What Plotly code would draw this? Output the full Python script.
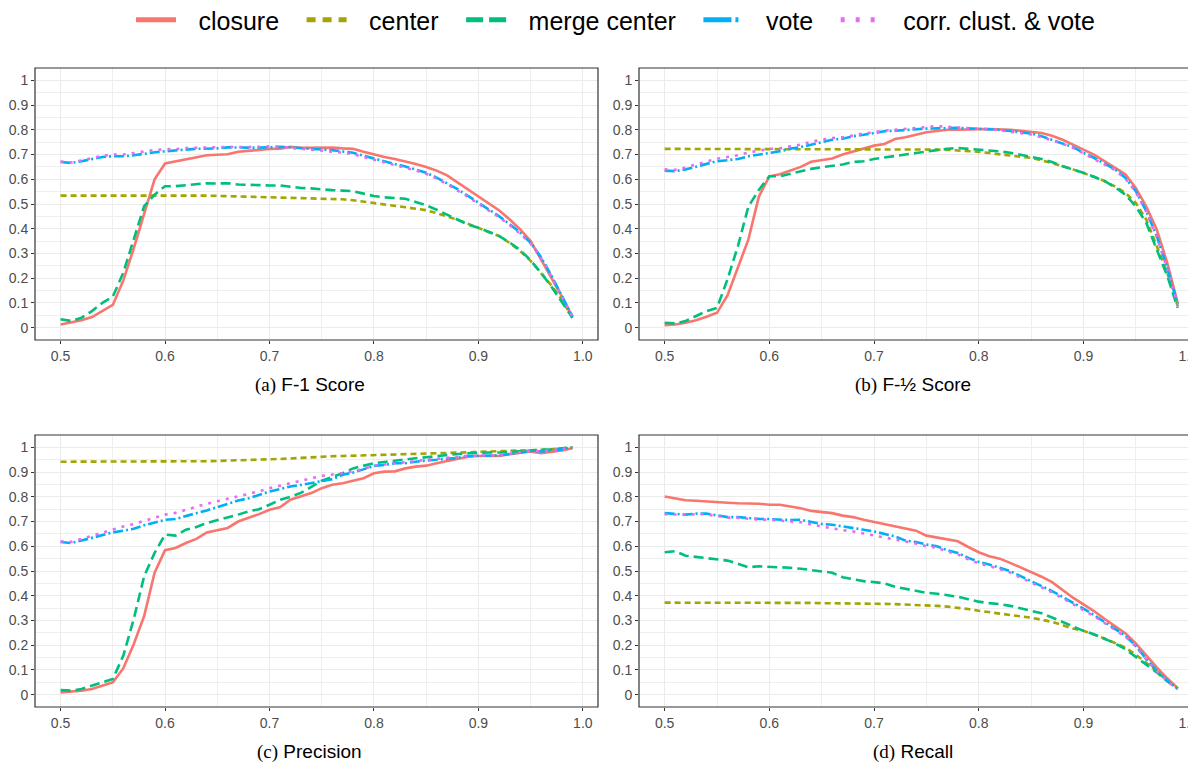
import plotly.graph_objects as go

thresholds = [0.50, 0.51, 0.52, 0.53, 0.54, 0.55, 0.56, 0.57, 0.58, 0.59,
              0.60, 0.61, 0.62, 0.63, 0.64, 0.65, 0.66, 0.67, 0.68, 0.69,
              0.70, 0.71, 0.72, 0.73, 0.74, 0.75, 0.76, 0.77, 0.78, 0.79,
              0.80, 0.81, 0.82, 0.83, 0.84, 0.85, 0.86, 0.87, 0.88, 0.89,
              0.90, 0.91, 0.92, 0.93, 0.94, 0.95, 0.96, 0.97, 0.98, 0.99]

series_names = ["closure", "center", "merge center", "vote", "corr. clust. & vote"]

# (a) F-1 score
closure_f1 = [0.013, 0.020, 0.030, 0.043, 0.067, 0.092, 0.190, 0.320, 0.460, 0.600,
              0.664, 0.673, 0.682, 0.689, 0.697, 0.699, 0.701, 0.711, 0.716, 0.720,
              0.723, 0.724, 0.731, 0.727, 0.728, 0.728, 0.728, 0.725, 0.723, 0.711,
              0.700, 0.690, 0.682, 0.673, 0.662, 0.650, 0.635, 0.616, 0.588, 0.559,
              0.532, 0.505, 0.474, 0.437, 0.397, 0.350, 0.276, 0.202, 0.125, 0.045]
center_f1 = [0.534, 0.534, 0.534, 0.534, 0.535, 0.535, 0.535, 0.536, 0.536, 0.537,
             0.537, 0.536, 0.536, 0.535, 0.534, 0.533, 0.532, 0.531, 0.530, 0.529,
             0.529, 0.528, 0.527, 0.526, 0.525, 0.524, 0.522, 0.519, 0.515, 0.510,
             0.505, 0.499, 0.493, 0.487, 0.481, 0.475, 0.463, 0.450, 0.436, 0.420,
             0.404, 0.388, 0.370, 0.342, 0.310, 0.270, 0.222, 0.170, 0.112, 0.040]
merge_f1 = [0.034, 0.027, 0.040, 0.067, 0.100, 0.125, 0.222, 0.357, 0.491, 0.538,
            0.572, 0.572, 0.577, 0.581, 0.584, 0.583, 0.584, 0.579, 0.577, 0.575,
            0.575, 0.575, 0.569, 0.565, 0.563, 0.558, 0.556, 0.554, 0.552, 0.542,
            0.532, 0.527, 0.524, 0.521, 0.508, 0.495, 0.477, 0.458, 0.437, 0.417,
            0.404, 0.388, 0.370, 0.344, 0.314, 0.272, 0.222, 0.165, 0.100, 0.040]
vote_f1 = [0.670, 0.666, 0.673, 0.682, 0.690, 0.693, 0.693, 0.697, 0.704, 0.709,
           0.713, 0.715, 0.720, 0.723, 0.723, 0.725, 0.729, 0.727, 0.728, 0.728,
           0.731, 0.731, 0.729, 0.725, 0.723, 0.720, 0.718, 0.713, 0.707, 0.695,
           0.683, 0.672, 0.662, 0.652, 0.640, 0.626, 0.607, 0.585, 0.560, 0.533,
           0.505, 0.478, 0.450, 0.418, 0.384, 0.343, 0.285, 0.210, 0.130, 0.045]
corr_f1 = [0.672, 0.668, 0.676, 0.686, 0.695, 0.700, 0.700, 0.706, 0.713, 0.718,
           0.722, 0.722, 0.726, 0.728, 0.729, 0.730, 0.731, 0.729, 0.730, 0.731,
           0.733, 0.731, 0.727, 0.722, 0.719, 0.716, 0.713, 0.708, 0.701, 0.690,
           0.678, 0.668, 0.658, 0.648, 0.636, 0.622, 0.603, 0.580, 0.556, 0.529,
           0.501, 0.474, 0.446, 0.414, 0.380, 0.340, 0.282, 0.207, 0.128, 0.044]

# (b) F-1/2 score
closure_fh = [0.010, 0.013, 0.020, 0.030, 0.044, 0.060, 0.130, 0.242, 0.357, 0.530,
              0.612, 0.620, 0.635, 0.650, 0.671, 0.676, 0.684, 0.700, 0.712, 0.723,
              0.736, 0.743, 0.763, 0.770, 0.780, 0.790, 0.795, 0.800, 0.800, 0.803,
              0.803, 0.803, 0.803, 0.800, 0.796, 0.790, 0.787, 0.776, 0.760, 0.740,
              0.720, 0.700, 0.673, 0.646, 0.620, 0.565, 0.490, 0.397, 0.262, 0.100]
center_fh = [0.723, 0.723, 0.723, 0.723, 0.723, 0.723, 0.723, 0.723, 0.723, 0.723,
             0.723, 0.723, 0.723, 0.723, 0.723, 0.723, 0.723, 0.723, 0.723, 0.723,
             0.723, 0.722, 0.722, 0.722, 0.722, 0.721, 0.720, 0.719, 0.717, 0.714,
             0.711, 0.706, 0.700, 0.696, 0.691, 0.687, 0.677, 0.666, 0.653, 0.640,
             0.626, 0.610, 0.593, 0.571, 0.545, 0.505, 0.437, 0.330, 0.222, 0.087]
merge_fh = [0.020, 0.017, 0.027, 0.047, 0.067, 0.080, 0.195, 0.330, 0.490, 0.557,
            0.612, 0.612, 0.622, 0.633, 0.642, 0.649, 0.653, 0.660, 0.670, 0.673,
            0.682, 0.687, 0.693, 0.700, 0.706, 0.713, 0.718, 0.723, 0.727, 0.723,
            0.720, 0.717, 0.713, 0.707, 0.700, 0.691, 0.682, 0.670, 0.653, 0.640,
            0.626, 0.610, 0.593, 0.568, 0.538, 0.490, 0.424, 0.316, 0.210, 0.080]
vote_fh = [0.635, 0.633, 0.640, 0.650, 0.660, 0.673, 0.677, 0.682, 0.693, 0.700,
           0.709, 0.713, 0.724, 0.730, 0.740, 0.750, 0.760, 0.764, 0.774, 0.780,
           0.787, 0.794, 0.796, 0.800, 0.802, 0.805, 0.806, 0.808, 0.808, 0.806,
           0.805, 0.803, 0.800, 0.795, 0.790, 0.785, 0.774, 0.760, 0.747, 0.730,
           0.707, 0.687, 0.663, 0.640, 0.606, 0.552, 0.471, 0.370, 0.242, 0.094]
corr_fh = [0.640, 0.638, 0.648, 0.660, 0.670, 0.683, 0.690, 0.697, 0.708, 0.717,
           0.723, 0.725, 0.732, 0.740, 0.752, 0.760, 0.767, 0.770, 0.778, 0.785,
           0.790, 0.797, 0.800, 0.803, 0.806, 0.810, 0.815, 0.812, 0.810, 0.807,
           0.805, 0.802, 0.798, 0.793, 0.787, 0.781, 0.770, 0.757, 0.744, 0.727,
           0.704, 0.684, 0.660, 0.637, 0.603, 0.549, 0.468, 0.367, 0.240, 0.093]

# (c) Precision
closure_p = [0.009, 0.012, 0.016, 0.023, 0.036, 0.050, 0.106, 0.204, 0.318, 0.493,
             0.584, 0.593, 0.613, 0.630, 0.656, 0.664, 0.674, 0.700, 0.714, 0.730,
             0.748, 0.758, 0.788, 0.800, 0.815, 0.835, 0.849, 0.855, 0.866, 0.875,
             0.895, 0.902, 0.903, 0.915, 0.922, 0.926, 0.936, 0.945, 0.952, 0.962,
             0.965, 0.965, 0.965, 0.972, 0.976, 0.983, 0.976, 0.980, 0.987, 0.996]
center_p = [0.942, 0.942, 0.942, 0.942, 0.942, 0.942, 0.942, 0.942, 0.941, 0.941,
            0.941, 0.941, 0.942, 0.943, 0.944, 0.945, 0.947, 0.948, 0.950, 0.951,
            0.952, 0.953, 0.955, 0.958, 0.962, 0.963, 0.964, 0.965, 0.966, 0.967,
            0.968, 0.969, 0.970, 0.971, 0.972, 0.973, 0.975, 0.977, 0.978, 0.980,
            0.982, 0.983, 0.984, 0.986, 0.987, 0.989, 0.990, 0.992, 0.995, 1.000]
merge_p = [0.019, 0.016, 0.023, 0.036, 0.050, 0.063, 0.157, 0.305, 0.479, 0.573,
           0.647, 0.643, 0.667, 0.678, 0.694, 0.705, 0.714, 0.728, 0.741, 0.750,
           0.768, 0.788, 0.800, 0.816, 0.840, 0.865, 0.880, 0.895, 0.915, 0.926,
           0.936, 0.941, 0.947, 0.952, 0.956, 0.960, 0.965, 0.969, 0.973, 0.976,
           0.979, 0.979, 0.979, 0.982, 0.985, 0.989, 0.990, 0.992, 0.995, 1.000]
vote_p = [0.617, 0.613, 0.623, 0.634, 0.643, 0.656, 0.663, 0.671, 0.685, 0.697,
          0.707, 0.710, 0.723, 0.734, 0.745, 0.758, 0.772, 0.785, 0.794, 0.808,
          0.821, 0.831, 0.842, 0.848, 0.855, 0.862, 0.871, 0.889, 0.898, 0.911,
          0.925, 0.929, 0.936, 0.936, 0.943, 0.947, 0.950, 0.953, 0.958, 0.965,
          0.965, 0.965, 0.968, 0.973, 0.979, 0.985, 0.983, 0.987, 0.992, 1.000]
corr_p = [0.620, 0.618, 0.630, 0.643, 0.655, 0.670, 0.680, 0.690, 0.703, 0.716,
          0.728, 0.735, 0.748, 0.760, 0.772, 0.782, 0.792, 0.800, 0.810, 0.822,
          0.835, 0.845, 0.855, 0.863, 0.873, 0.885, 0.890, 0.895, 0.902, 0.913,
          0.926, 0.931, 0.937, 0.940, 0.945, 0.949, 0.952, 0.955, 0.960, 0.966,
          0.966, 0.966, 0.969, 0.974, 0.980, 0.986, 0.984, 0.988, 0.993, 1.000]

# (d) Recall
closure_r = [0.801, 0.795, 0.786, 0.784, 0.781, 0.777, 0.776, 0.774, 0.774, 0.772,
             0.768, 0.768, 0.761, 0.754, 0.743, 0.737, 0.734, 0.724, 0.718, 0.707,
             0.698, 0.690, 0.681, 0.670, 0.663, 0.643, 0.636, 0.630, 0.620, 0.597,
             0.576, 0.560, 0.550, 0.533, 0.515, 0.497, 0.477, 0.455, 0.423, 0.392,
             0.365, 0.338, 0.307, 0.278, 0.248, 0.207, 0.157, 0.110, 0.066, 0.026]
center_r = [0.372, 0.372, 0.372, 0.372, 0.373, 0.373, 0.373, 0.373, 0.374, 0.374,
            0.374, 0.374, 0.373, 0.372, 0.371, 0.370, 0.370, 0.369, 0.369, 0.368,
            0.368, 0.367, 0.366, 0.365, 0.364, 0.362, 0.359, 0.356, 0.352, 0.346,
            0.339, 0.334, 0.329, 0.323, 0.317, 0.311, 0.303, 0.294, 0.281, 0.267,
            0.258, 0.243, 0.227, 0.209, 0.190, 0.162, 0.130, 0.095, 0.056, 0.026]
merge_r = [0.576, 0.580, 0.562, 0.557, 0.553, 0.549, 0.542, 0.529, 0.515, 0.519,
           0.517, 0.517, 0.513, 0.509, 0.503, 0.497, 0.493, 0.475, 0.466, 0.459,
           0.455, 0.450, 0.436, 0.428, 0.423, 0.412, 0.408, 0.403, 0.396, 0.386,
           0.376, 0.370, 0.366, 0.359, 0.350, 0.339, 0.329, 0.312, 0.294, 0.276,
           0.258, 0.244, 0.227, 0.208, 0.184, 0.153, 0.123, 0.090, 0.054, 0.026]
vote_r = [0.734, 0.732, 0.728, 0.732, 0.732, 0.725, 0.718, 0.718, 0.714, 0.711,
          0.710, 0.707, 0.706, 0.707, 0.700, 0.690, 0.687, 0.681, 0.674, 0.667,
          0.660, 0.651, 0.640, 0.623, 0.617, 0.607, 0.600, 0.584, 0.573, 0.553,
          0.537, 0.526, 0.513, 0.500, 0.479, 0.459, 0.439, 0.419, 0.395, 0.372,
          0.348, 0.322, 0.294, 0.267, 0.238, 0.197, 0.144, 0.097, 0.056, 0.023]
corr_r = [0.730, 0.729, 0.727, 0.730, 0.729, 0.722, 0.716, 0.715, 0.710, 0.708,
          0.707, 0.703, 0.700, 0.697, 0.688, 0.680, 0.675, 0.665, 0.660, 0.652,
          0.645, 0.637, 0.628, 0.618, 0.611, 0.600, 0.594, 0.579, 0.567, 0.547,
          0.531, 0.520, 0.507, 0.494, 0.473, 0.453, 0.434, 0.414, 0.390, 0.367,
          0.343, 0.318, 0.290, 0.263, 0.235, 0.195, 0.142, 0.096, 0.055, 0.023]

captions = ["(a)", "(b)", "(c)", "(d)"]
caption_texts = ["F-1 Score", "F-½ Score", "Precision", "Recall"]

panels = [
    [closure_f1, center_f1, merge_f1, vote_f1, corr_f1],
    [closure_fh, center_fh, merge_fh, vote_fh, corr_fh],
    [closure_p, center_p, merge_p, vote_p, corr_p],
    [closure_r, center_r, merge_r, vote_r, corr_r],
]

colors = ["#F8766D", "#A3A500", "#00BF7D", "#00B0F6", "#E76BF3"]
dashes = ["solid", "6px,4px", "10px,5px", "10px,3px,2px,3px", "3px,6px"]
legend_dashes = ["solid", "9px,7px", "17px,6px", "28px,4px,3px,5px", "4px,11px"]

# the page body has an 8px margin; figure is sized to fill the visible window
OFF = 8
W, H = 1196 - OFF, 767 - OFF
# panel pixel boxes in window coords: (left, right, top, bottom)
boxes = [(35, 598, 68, 340), (639, 1196, 68, 340),
         (35, 598, 435, 707), (639, 1196, 435, 707)]
xranges = [[0.4755, 1.0145], [0.4755, 1.0075], [0.4755, 1.0145], [0.4755, 1.0075]]
cap_pos = [(310, 385), (913, 385), (309, 752), (913, 752)]

fig = go.Figure()
SP = "\u2002\u2009"
for p, ser in enumerate(panels):
    ax = "" if p == 0 else str(p + 1)
    for i, ys in enumerate(ser):
        fig.add_trace(go.Scatter(
            x=thresholds, y=ys, mode="lines", name=series_names[i],
            legendgroup=series_names[i], showlegend=False,
            line=dict(color=colors[i], width=2.6, dash=dashes[i]),
            xaxis="x" + ax, yaxis="y" + ax, hoverinfo="skip"))

# legend keys (thicker lines, as in the reference legend)
for i, nm in enumerate(series_names):
    fig.add_trace(go.Scatter(
        x=[None], y=[None], mode="lines", name=SP + nm + SP,
        legendgroup=nm, showlegend=True,
        line=dict(color=colors[i], width=5, dash=legend_dashes[i]),
        xaxis="x", yaxis="y", hoverinfo="skip"))

tickfont = dict(family="Liberation Sans, Arial, sans-serif", size=14, color="#4D4D4D")
layout = dict(width=W, height=H, margin=dict(l=0, r=0, t=0, b=0, autoexpand=False),
              paper_bgcolor="white", plot_bgcolor="white", shapes=[], annotations=[])
for p, (l, r, t, b) in enumerate(boxes):
    ax = "" if p == 0 else str(p + 1)
    l, r, t, b = l - OFF, r - OFF, t - OFF, b - OFF
    xa = dict(domain=[l / W, min(r / W, 1.0)], range=xranges[p], anchor="y" + ax,
              tickmode="linear", tick0=0.5, dtick=0.1, tickformat=".1f",
              ticks="outside", ticklen=3, tickwidth=1, tickcolor="#333333",
              tickfont=tickfont, ticklabeloverflow="allow",
              showgrid=True, gridcolor="#EBEBEB", gridwidth=1.2,
              minor=dict(dtick=0.05, showgrid=True, gridcolor="#EFEFEF", gridwidth=0.8),
              zeroline=False, showline=False, fixedrange=True, automargin=False)
    ya = dict(domain=[1 - b / H, 1 - t / H], range=[-0.05, 1.05], anchor="x" + ax,
              tickmode="linear", tick0=0, dtick=0.1,
              ticks="outside", ticklen=3, tickwidth=1, tickcolor="#333333",
              tickfont=tickfont, showgrid=True, gridcolor="#EBEBEB", gridwidth=1.2,
              minor=dict(dtick=0.05, showgrid=True, gridcolor="#EFEFEF", gridwidth=0.8),
              zeroline=False, showline=False, fixedrange=True, automargin=False)
    layout["xaxis" + ax] = xa
    layout["yaxis" + ax] = ya
    x1 = 1.0 if r < W else 1.05
    layout["shapes"].append(dict(type="rect", xref="x" + ax + " domain", yref="y" + ax + " domain",
                                 x0=0, x1=x1, y0=0, y1=1, line=dict(color="#333333", width=1.2),
                                 fillcolor="rgba(0,0,0,0)", layer="above"))
    cx, cy = cap_pos[p]
    layout["annotations"].append(dict(
        x=(cx - OFF) / W, y=1 - (cy - OFF) / H, xref="paper", yref="paper", showarrow=False,
        xanchor="center", yanchor="middle",
        text="<span style='font-family:Liberation Serif, serif'>" + captions[p] + "</span> " + caption_texts[p],
        font=dict(family="Liberation Sans, Arial, sans-serif", size=19, color="black")))

layout["legend"] = dict(orientation="h", x=(131 - OFF) / W, xanchor="left",
                        y=1 + 11 / H, yanchor="top",
                        font=dict(family="Liberation Sans, Arial, sans-serif", size=25, color="black"),
                        bgcolor="rgba(0,0,0,0)", itemwidth=40)
fig.update_layout(**layout)
fig.write_html("out.html")
